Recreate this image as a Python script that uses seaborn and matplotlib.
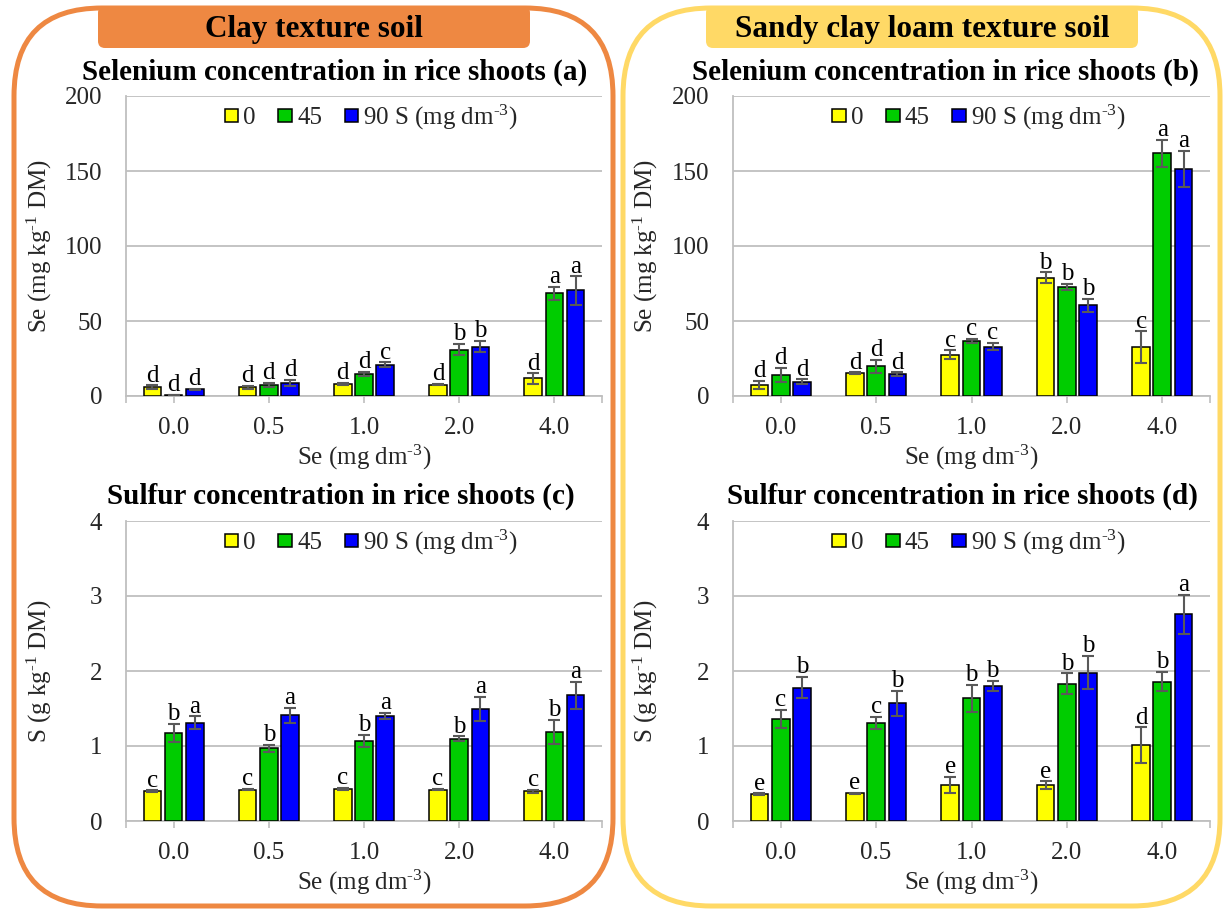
import matplotlib
matplotlib.use("Agg")
import matplotlib.pyplot as plt
from matplotlib.patches import FancyBboxPatch
from matplotlib.container import BarContainer
import pandas as pd
import seaborn as sns

# ---- data -------------------------------------------------------------
se_doses = ["0.0", "0.5", "1.0", "2.0", "4.0"]
s_doses = ["0", "45", r"90 S (mg dm$^{\text{-3}}$)"]
bar_colors = ["#FFFF00", "#00CC00", "#0000FF"]

# Se in shoots, clay soil (mg kg-1 DM): one row per S dose
se_clay_mean = [[6.0, 6.0, 8.3, 7.6, 11.7],
                [0.7, 7.4, 14.8, 31.0, 68.4],
                [4.5, 8.7, 21.0, 33.0, 70.4]]
se_clay_err = [[1.2, 1.0, 0.7, 0.4, 3.5],
               [0.3, 1.5, 1.5, 3.8, 4.5],
               [0.5, 2.0, 1.5, 3.8, 9.5]]
se_clay_letters = [["d", "d", "d", "d", "d"],
                   ["d", "d", "d", "b", "a"],
                   ["d", "d", "c", "b", "a"]]

# Se in shoots, sandy clay loam soil (mg kg-1 DM)
se_sandy_mean = [[7.3, 15.4, 27.4, 78.8, 32.7],
                 [14.2, 19.8, 36.7, 72.6, 162.0],
                 [9.6, 14.5, 33.0, 60.4, 151.4]]
se_sandy_err = [[2.9, 0.4, 3.0, 3.7, 10.4],
                [4.8, 4.5, 1.5, 2.0, 9.0],
                [1.5, 1.3, 2.5, 4.5, 12.0]]
se_sandy_letters = [["d", "d", "c", "b", "c"],
                    ["d", "d", "c", "b", "a"],
                    ["d", "d", "c", "b", "a"]]

# S in shoots, clay soil (g kg-1 DM)
s_clay_mean = [[0.40, 0.42, 0.43, 0.42, 0.40],
               [1.18, 0.97, 1.07, 1.10, 1.19],
               [1.31, 1.41, 1.40, 1.50, 1.68]]
s_clay_err = [[0.01, 0.01, 0.01, 0.01, 0.02],
              [0.12, 0.05, 0.08, 0.03, 0.16],
              [0.085, 0.10, 0.04, 0.16, 0.18]]
s_clay_letters = [["c", "c", "c", "c", "c"],
                  ["b", "b", "b", "b", "b"],
                  ["a", "a", "a", "a", "a"]]

# S in shoots, sandy clay loam soil (g kg-1 DM)
s_sandy_mean = [[0.36, 0.37, 0.48, 0.48, 1.01],
                [1.36, 1.31, 1.64, 1.83, 1.86],
                [1.78, 1.57, 1.80, 1.98, 2.76]]
s_sandy_err = [[0.01, 0.01, 0.11, 0.05, 0.24],
               [0.12, 0.08, 0.18, 0.14, 0.13],
               [0.14, 0.17, 0.07, 0.22, 0.26]]
s_sandy_letters = [["e", "e", "e", "e", "d"],
                   ["c", "c", "b", "b", "b"],
                   ["b", "b", "b", "b", "a"]]

# ---- style ------------------------------------------------------------
sns.set_theme(style="white")
plt.rcParams["font.family"] = ["Liberation Serif", "DejaVu Serif"]
plt.rcParams["mathtext.fontset"] = "custom"
plt.rcParams["mathtext.rm"] = "Liberation Serif"
plt.rcParams["mathtext.it"] = "Liberation Serif:italic"
plt.rcParams["mathtext.bf"] = "Liberation Serif:bold"

GRID = "#BFBFBF"
ERR = "#595959"
FS = 18

W, H = 1229, 909
fig = plt.figure(figsize=(W / 100, H / 100), dpi=100, facecolor="white")

# background layer in pixel units (y downward) for frames and headings
bg = fig.add_axes([0, 0, 1, 1], zorder=-5)
bg.set_xlim(0, W)
bg.set_ylim(H, 0)
bg.axis("off")

ORANGE = "#EE8842"
GOLD = "#FFD966"
for x0, x1, col in [(14, 613, ORANGE), (623, 1220, GOLD)]:
    bg.add_patch(FancyBboxPatch((x0, 8), x1 - x0, 898,
                                boxstyle="round,pad=0,rounding_size=88",
                                facecolor="none", edgecolor=col, linewidth=3.6))
for x0, x1, col, txt in [(98, 530, ORANGE, "Clay texture soil"),
                         (706, 1138, GOLD, "Sandy clay loam texture soil")]:
    bg.add_patch(FancyBboxPatch((x0, 6), x1 - x0, 42,
                                boxstyle="round,pad=0,rounding_size=7",
                                facecolor=col, edgecolor="none"))
    bg.text((x0 + x1) / 2, 29, txt, ha="center", va="center",
            fontsize=22.5, fontweight="bold", color="black")

titles = [(335, 72, "Selenium concentration in rice shoots (a)"),
          (945, 72, "Selenium concentration in rice shoots (b)"),
          (341, 496, "Sulfur concentration in rice shoots (c)"),
          (962, 496, "Sulfur concentration in rice shoots (d)")]
for x, y, t in titles:
    bg.text(x, y, t, ha="center", va="center", fontsize=21,
            fontweight="bold", color="black")


def panel(rect, means, errs, letters, ymax, ystep, ylabel):
    left, top, width, height = rect
    ax = fig.add_axes([left / W, 1 - (top + height) / H, width / W, height / H])
    rows = []
    for i, s in enumerate(s_doses):
        for j, se in enumerate(se_doses):
            rows.append({"Se": se, "S": s, "value": means[i][j]})
    df = pd.DataFrame(rows)
    sns.barplot(data=df, x="Se", y="value", hue="S", order=se_doses,
                hue_order=s_doses, palette=bar_colors, saturation=1,
                width=0.667, gap=0.17, edgecolor="black", linewidth=1.1,
                errorbar=None, ax=ax, zorder=3)
    bar_groups = [c for c in ax.containers if isinstance(c, BarContainer)]
    for i, cont in enumerate(bar_groups):
        for j, bar in enumerate(cont.patches):
            xc = bar.get_x() + bar.get_width() / 2
            h = bar.get_height()
            e = errs[i][j]
            ax.errorbar(xc, h, yerr=e, ecolor=ERR, elinewidth=1.5,
                        capsize=4.5, capthick=1.5, fmt="none", zorder=4)
            ax.annotate(letters[i][j], (xc, h + e), xytext=(0, -1),
                        textcoords="offset points", ha="center",
                        va="bottom", fontsize=FS, color="black", zorder=5)
    ax.set_xlim(-0.5, 4.5)
    ax.set_ylim(0, ymax)
    ticks = [k * ystep for k in range(int(round(ymax / ystep)) + 1)]
    ax.set_yticks(ticks)
    ax.set_yticklabels([f"{t:g}" for t in ticks])
    ax.yaxis.grid(True, color=GRID, linewidth=1.3, zorder=0)
    ax.set_axisbelow(True)
    for side in ("top", "right"):
        ax.spines[side].set_visible(False)
    for side in ("left", "bottom"):
        ax.spines[side].set_color(GRID)
        ax.spines[side].set_linewidth(1.3)
    ax.set_xticks(range(len(se_doses)))
    ax.set_xticks([-0.5, 4.5], minor=True)
    ax.tick_params(axis="x", which="both", length=5, width=1.2, color=GRID,
                   labelsize=FS, pad=10, direction="out", bottom=True)
    ax.tick_params(axis="y", length=0, labelsize=FS, pad=17)
    ax.set_xlabel(r"Se (mg dm$^{\text{-3}}$)", fontsize=FS, va="top")
    ax.xaxis.set_label_coords(0.5, -0.155)
    ax.set_ylabel(ylabel, fontsize=FS)
    ax.yaxis.set_label_coords(-0.152, 0.5)
    handles, labels = ax.get_legend_handles_labels()
    ax.legend(handles, labels, loc="center", bbox_to_anchor=(0.515, 0.93),
              ncol=3, frameon=False, fontsize=FS, handlelength=0.55,
              handleheight=0.42, handletextpad=0.2, columnspacing=0.9,
              borderaxespad=0)
    return ax


panel((126, 96, 476, 300), se_clay_mean, se_clay_err, se_clay_letters,
      200, 50, r"Se (mg kg$^{\text{-1}}$ DM)")
panel((733, 96, 477, 300), se_sandy_mean, se_sandy_err, se_sandy_letters,
      200, 50, r"Se (mg kg$^{\text{-1}}$ DM)")
panel((126, 521, 476, 300), s_clay_mean, s_clay_err, s_clay_letters,
      4, 1, r"S (g kg$^{\text{-1}}$ DM)")
panel((733, 521, 477, 300), s_sandy_mean, s_sandy_err, s_sandy_letters,
      4, 1, r"S (g kg$^{\text{-1}}$ DM)")

fig.savefig("out.png", dpi=100, facecolor="white")
